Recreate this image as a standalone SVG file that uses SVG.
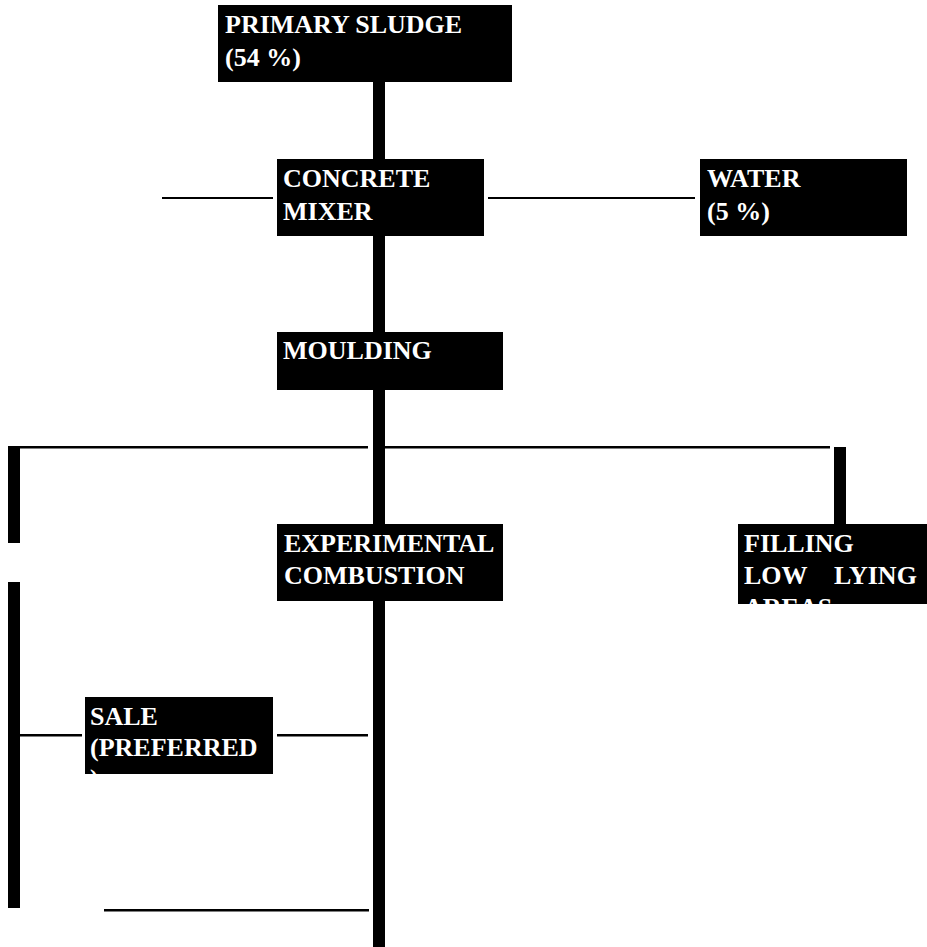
<svg xmlns="http://www.w3.org/2000/svg" width="927" height="947" viewBox="0 0 927 947">
<style>
.box{fill:#000}
.t{font-family:"Liberation Serif","Times New Roman",serif;font-weight:bold;font-size:26px;fill:#fff}
.ln{fill:#000}
</style>
<defs>
<clipPath id="cf"><rect x="738" y="524" width="189" height="80"/></clipPath>
<clipPath id="cs"><rect x="85" y="697" width="188" height="77"/></clipPath>
</defs>
<rect width="927" height="947" fill="#fff"/>
<g id="connectors">
<rect class="ln" x="373" y="82" width="12" height="865"/>
<rect class="ln" x="162" y="197" width="111" height="2"/>
<rect class="ln" x="488" y="197" width="207" height="2"/>
<rect class="ln" x="8" y="446" width="360" height="2.5"/>
<rect class="ln" x="385" y="446" width="445" height="2.5"/>
<rect class="ln" x="834" y="447" width="12" height="77"/>
<rect class="ln" x="8" y="447" width="12" height="96"/>
<rect class="ln" x="8" y="582" width="12" height="326"/>
<rect class="ln" x="20" y="734" width="62" height="2.5"/>
<rect class="ln" x="277" y="734" width="91" height="2.5"/>
<rect class="ln" x="104" y="909" width="265" height="2.5"/>
</g>
<g id="primary">
<rect class="box" x="218" y="5" width="294" height="77"/>
<text class="t" x="225" y="33">PRIMARY SLUDGE</text>
<text class="t" x="225" y="66">(54 %)</text>
</g>
<g id="concrete">
<rect class="box" x="277" y="159" width="207" height="77"/>
<text class="t" x="283" y="187">CONCRETE</text>
<text class="t" x="283" y="220">MIXER</text>
</g>
<g id="water">
<rect class="box" x="700" y="159" width="207" height="77"/>
<text class="t" x="707" y="187">WATER</text>
<text class="t" x="707" y="220">(5 %)</text>
</g>
<g id="moulding">
<rect class="box" x="277" y="332" width="226" height="58"/>
<text class="t" x="283" y="359">MOULDING</text>
</g>
<g id="experimental">
<rect class="box" x="277" y="524" width="226" height="77"/>
<text class="t" x="284" y="552">EXPERIMENTAL</text>
<text class="t" x="284" y="584">COMBUSTION</text>
</g>
<g id="filling">
<rect class="box" x="738" y="524" width="189" height="80"/>
<g clip-path="url(#cf)">
<text class="t" x="744" y="552">FILLING</text>
<text class="t" y="584"><tspan x="744">LOW</tspan><tspan x="834">LYING</tspan></text>
<text class="t" x="744" y="616">AREAS</text>
</g>
</g>
<g id="sale">
<rect class="box" x="85" y="697" width="188" height="77"/>
<g clip-path="url(#cs)">
<text class="t" x="90" y="725">SALE</text>
<text class="t" x="90" y="756">(PREFERRED</text>
<text class="t" x="90" y="787">)</text>
</g>
</g>
</svg>
